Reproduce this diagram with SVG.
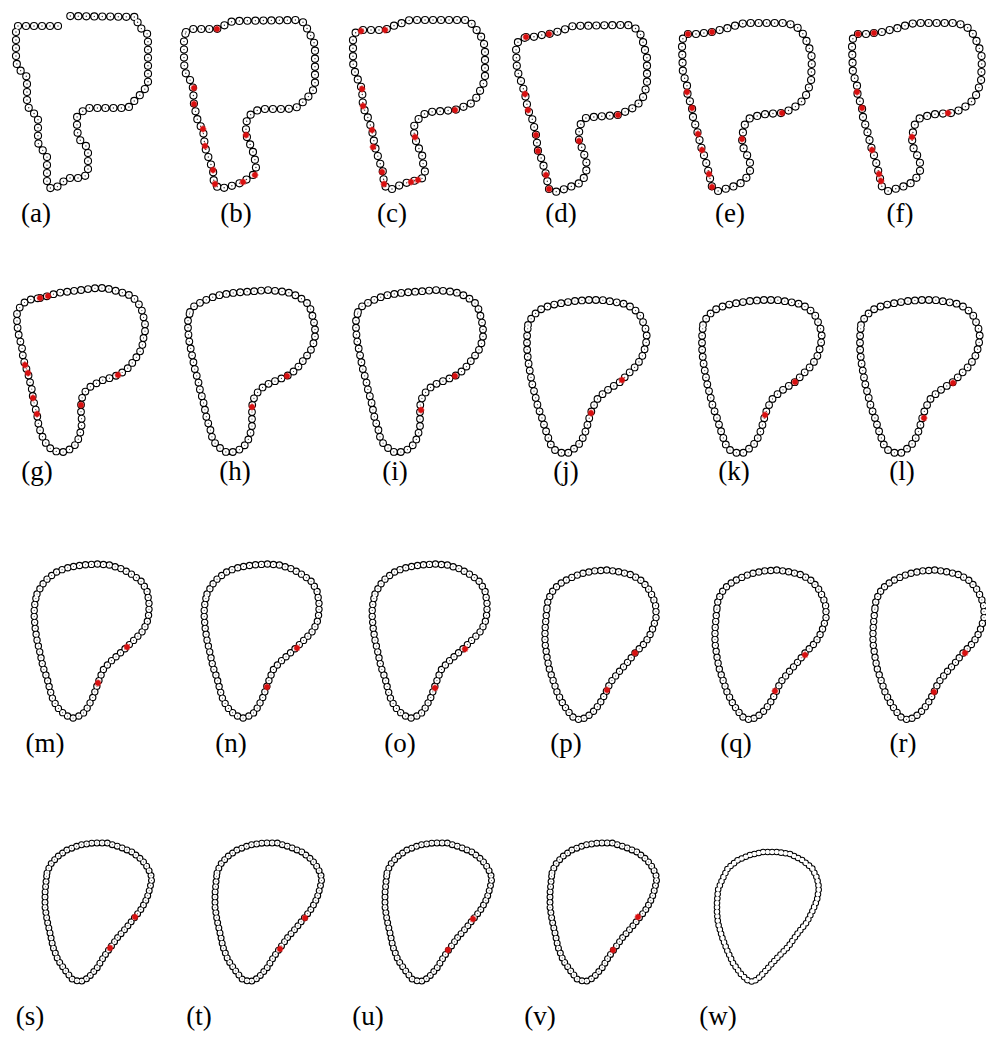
<svg xmlns="http://www.w3.org/2000/svg" xmlns:xlink="http://www.w3.org/1999/xlink" width="986" height="1039" viewBox="0 0 986 1039">
<style>
.k{fill:none;stroke-linecap:round;stroke-linejoin:round}
.o1{stroke:#000;stroke-width:8.2;stroke-dasharray:0 8}
.i1{stroke:#fff;stroke-width:6;stroke-dasharray:0 8}
.c1{stroke:#333;stroke-width:1.4;stroke-dasharray:0 8}
.o2{stroke:#000;stroke-width:7.8;stroke-dasharray:0 7}
.i2{stroke:#fff;stroke-width:5.6;stroke-dasharray:0 7}
.c2{stroke:#444;stroke-width:1.2;stroke-dasharray:0 7}
.o3{stroke:#000;stroke-width:7.4;stroke-dasharray:0 6}
.i3{stroke:#fff;stroke-width:5.1;stroke-dasharray:0 6}
.c3{stroke:#555;stroke-width:1.1;stroke-dasharray:0 6}
.o4{stroke:#000;stroke-width:7;stroke-dasharray:0 5.2}
.i4{stroke:#fff;stroke-width:4.8;stroke-dasharray:0 5.2}
.c4{stroke:#555;stroke-width:1;stroke-dasharray:0 5.2}
.o5{stroke:#000;stroke-width:6.6;stroke-dasharray:0 4.5}
.i5{stroke:#fff;stroke-width:4.6;stroke-dasharray:0 4.5}
.lbl{font-family:'Liberation Serif','DejaVu Serif',serif;font-size:27px;fill:#000;text-anchor:middle}
</style>
<defs>
<g id="rd"><circle r="2.7" fill="#e01818"/><path d="M-3.4,0H3.4M0,-3.4V3.4M-2.4,-2.4L2.4,2.4M-2.4,2.4L2.4,-2.4" stroke="#d81010" stroke-width="1.1"/></g>
<path id="pa" d="M58,26 L16,26 L16,61 L18,68 L27,77 L27,100 L29,109 L38,117 L38,143 L47,157 L47,183 L51,189 L59,186 L67,178 L83,178 L88,173 L88,148 L80,140 L77,131 L77,117 L86,108 L128,108 L136,99 L144,91 L148,82 L148,42 L147,33 L138,26 L137,17 L66,16"/>
<path id="pb" d="M16,32 L22,29 L47,29 L55,25 L63,21 L127,20 L135,23 L138,31 L142,38 L145,45 L145,85 L142,93 L135,100 L128,107 L118,109 L90,109 L82,113 L77,119 L76,127 L76,135 L80,144 L83,152 L85,160 L86,168 L83,175 L73,182 L65,185 L57,187 L50,189 L44,184 L43,170 L40,162 L35,147 L33,130 L28,122 L24,105 L23,88 L20,80 L15,72 L14,63 L14,38 Z"/>
<path id="pc" d="M13,40 L15,33 L21,30 L45,30 L53,26 L62,23 L70,20 L127,20 L133,25 L138,32 L142,38 L145,47 L145,80 L142,87 L137,97 L132,103 L123,107 L115,110 L90,112 L82,115 L77,121 L73,128 L75,137 L77,145 L82,154 L83,163 L85,172 L83,178 L77,180 L70,182 L62,184 L55,188 L49,190 L44,185 L43,172 L40,163 L35,147 L32,130 L27,115 L23,107 L22,89 L18,80 L15,72 L13,63 Z"/>
<path id="pd" d="M26,37 L33,37 L42,35 L49,34 L57,32 L66,29 L73,26 L120,25 L128,25 L135,28 L140,33 L143,42 L145,50 L147,58 L147,83 L145,92 L142,100 L135,107 L127,111 L118,115 L93,117 L86,118 L80,125 L79,133 L79,141 L82,148 L85,157 L87,165 L86,173 L82,182 L75,185 L62,190 L55,192 L49,189 L46,175 L42,160 L38,151 L36,135 L32,118 L28,110 L25,94 L20,78 L17,70 L16,48 L18,42 Z"/>
<path id="pe" d="M8,34 L16,34 L24,33 L32,32 L40,30 L48,28 L57,25 L65,23 L105,23 L113,25 L118,28 L123,34 L127,42 L130,50 L132,58 L131,82 L128,90 L125,98 L118,105 L110,110 L102,113 L86,114 L77,116 L70,118 L65,124 L63,132 L62,139 L63,147 L67,155 L70,163 L70,172 L65,180 L58,185 L45,189 L38,191 L32,187 L29,174 L25,158 L22,150 L18,134 L13,117 L12,108 L7,92 L7,83 L3,75 L2,47 L3,38 Z"/>
<path id="pg" d="M40,48 48,46 57,43 65,42 97,38 105,38 113,40 120,42 127,44 133,47 137,52 141,57 143,65 145,73 145,82 143,90 142,98 138,105 133,112 128,118 123,122 118,125 110,128 103,130 97,133 90,137 85,142 82,148 81,155 81,163 82,172 81,180 79,187 77,193 72,198 65,202 58,202 52,200 47,195 43,188 40,180 38,172 37,164 35,157 33,148 32,140 30,132 28,123 25,115 23,107 22,98 20,90 18,82 17,72 17,63 20,57 25,52 32,49 Z"/>
<path id="ph" d="M20,62 25,55 32,52 40,48 50,45 62,43 73,42 87,41 97,40 107,41 117,42 125,45 132,49 137,53 141,60 143,68 145,77 145,87 143,95 140,102 135,108 130,115 123,122 117,126 108,130 100,133 93,137 87,143 83,150 82,157 82,167 82,177 80,185 77,193 71,199 63,202 56,202 50,198 45,193 42,187 40,178 37,170 35,160 33,150 30,140 28,130 25,120 23,110 21,100 19,90 18,80 18,70 Z"/>
<path id="pk" d="M23,75 27,67 32,62 38,58 47,55 57,53 70,51 83,50 97,50 110,52 120,54 128,58 135,65 138,72 141,80 142,88 140,98 137,107 132,115 125,122 115,132 107,137 100,142 93,148 88,157 85,165 83,173 80,183 76,192 70,198 63,203 57,203 50,200 46,195 43,187 40,178 37,168 33,157 30,145 27,133 25,122 23,110 22,98 22,87 Z"/>
<path id="pm" d="M37,84 42,75 48,68 58,61 70,57 83,55 97,54 110,55 122,59 133,65 142,72 147,81 149,92 149,103 147,113 142,122 135,129 127,137 118,145 110,152 103,160 98,173 93,187 88,197 82,205 73,208 65,205 58,198 53,190 50,180 47,168 43,157 40,143 37,130 35,117 34,103 35,92 Z"/>
<path id="pp" d="M37,98 38,90 42,82 48,75 58,69 70,64 83,61 97,60 110,62 122,65 132,71 138,78 143,87 146,97 146,108 143,118 139,127 133,135 125,143 117,153 108,163 100,173 97,180 92,190 85,200 77,207 70,210 63,207 57,200 52,192 47,182 43,170 39,158 37,147 35,133 35,120 36,108 Z"/>
<path id="ps" d="M47,93 50,85 57,77 67,70 80,65 93,63 107,63 120,67 132,72 142,80 148,88 152,98 150,108 147,118 142,128 135,137 127,147 118,157 110,168 103,178 97,188 88,198 80,202 72,199 65,190 58,180 53,167 50,153 47,140 45,127 45,113 46,102 Z"/>
<path id="pw" d="M37,123 38,110 42,100 48,88 58,80 70,75 83,72 97,72 110,74 122,80 132,88 137,98 139,108 137,120 133,130 127,142 118,153 108,167 98,177 88,188 80,197 73,202 67,200 60,193 53,183 47,170 42,157 38,143 37,133 Z"/>
</defs>
<rect width="986" height="1039" fill="#fff"/>

<g id="panel-a" transform="translate(0,0)">
<use href="#pa" class="k o1"/><use href="#pa" class="k i1"/><use href="#pa" class="k c1"/>
</g>
<g id="panel-b" transform="translate(170,0)">
<use href="#pb" class="k o1"/><use href="#pb" class="k i1"/><use href="#pb" class="k c1"/>
<use href="#rd" x="47" y="29"/><use href="#rd" x="24" y="88"/><use href="#rd" x="24" y="104"/><use href="#rd" x="33" y="129"/><use href="#rd" x="35" y="146"/><use href="#rd" x="43" y="170"/><use href="#rd" x="45" y="184"/><use href="#rd" x="73" y="182"/><use href="#rd" x="85" y="175"/><use href="#rd" x="76" y="135"/>
</g>
<g id="panel-c" transform="translate(340,0)">
<use href="#pc" class="k o1"/><use href="#pc" class="k i1"/><use href="#pc" class="k c1"/>
<use href="#rd" x="21" y="31"/><use href="#rd" x="45" y="30"/><use href="#rd" x="22" y="89"/><use href="#rd" x="23" y="106"/><use href="#rd" x="32" y="130"/><use href="#rd" x="33" y="147"/><use href="#rd" x="42" y="172"/><use href="#rd" x="44" y="184"/><use href="#rd" x="71" y="182"/><use href="#rd" x="78" y="180"/><use href="#rd" x="75" y="137"/><use href="#rd" x="115" y="110"/>
</g>
<g id="panel-d" transform="translate(500,0)">
<use href="#pd" class="k o1"/><use href="#pd" class="k i1"/><use href="#pd" class="k c1"/>
<use href="#rd" x="26" y="37"/><use href="#rd" x="49" y="34"/><use href="#rd" x="25" y="94"/><use href="#rd" x="28" y="110"/><use href="#rd" x="36" y="135"/><use href="#rd" x="38" y="151"/><use href="#rd" x="46" y="175"/><use href="#rd" x="49" y="189"/><use href="#rd" x="79" y="141"/><use href="#rd" x="118" y="115"/>
</g>
<g id="panel-e" transform="translate(680,0)">
<use href="#pe" class="k o1"/><use href="#pe" class="k i1"/><use href="#pe" class="k c1"/>
<use href="#rd" x="8" y="34"/><use href="#rd" x="32" y="32"/><use href="#rd" x="7" y="92"/><use href="#rd" x="12" y="108"/><use href="#rd" x="18" y="134"/><use href="#rd" x="22" y="150"/><use href="#rd" x="29" y="174"/><use href="#rd" x="32" y="187"/><use href="#rd" x="62" y="139"/><use href="#rd" x="102" y="113"/>
</g>
<g id="panel-f" transform="translate(850,0)">
<use href="#pe" class="k o1"/><use href="#pe" class="k i1"/><use href="#pe" class="k c1"/>
<use href="#rd" x="8" y="34"/><use href="#rd" x="24" y="33"/><use href="#rd" x="7" y="92"/><use href="#rd" x="12" y="108"/><use href="#rd" x="22" y="150"/><use href="#rd" x="29" y="174"/><use href="#rd" x="31" y="181"/><use href="#rd" x="62" y="137"/><use href="#rd" x="98" y="113"/>
</g>

<g id="panel-g" transform="translate(0,250)">
<use href="#pg" class="k o2"/><use href="#pg" class="k i2"/><use href="#pg" class="k c2"/>
<use href="#rd" x="40" y="48"/><use href="#rd" x="48" y="46"/><use href="#rd" x="118" y="125"/><use href="#rd" x="81" y="155"/><use href="#rd" x="37" y="164"/><use href="#rd" x="33" y="148"/><use href="#rd" x="28" y="123"/><use href="#rd" x="25" y="115"/>
</g>
<g id="panel-h" transform="translate(170,250)">
<use href="#ph" class="k o2"/><use href="#ph" class="k i2"/><use href="#ph" class="k c2"/>
<use href="#rd" x="117" y="126"/><use href="#rd" x="82" y="157"/>
</g>
<g id="panel-i" transform="translate(338,250)">
<use href="#ph" class="k o2"/><use href="#ph" class="k i2"/><use href="#ph" class="k c2"/>
<use href="#rd" x="117" y="126"/><use href="#rd" x="83" y="160"/>
</g>
<g id="panel-j" transform="translate(505,250)">
<use href="#pk" class="k o2"/><use href="#pk" class="k i2"/><use href="#pk" class="k c2"/>
<use href="#rd" x="117" y="130"/><use href="#rd" x="86" y="163"/>
</g>
<g id="panel-k" transform="translate(680,250)">
<use href="#pk" class="k o2"/><use href="#pk" class="k i2"/><use href="#pk" class="k c2"/>
<use href="#rd" x="115" y="132"/><use href="#rd" x="85" y="165"/>
</g>
<g id="panel-l" transform="translate(838,250)">
<use href="#pk" class="k o2"/><use href="#pk" class="k i2"/><use href="#pk" class="k c2"/>
<use href="#rd" x="115" y="133"/><use href="#rd" x="86" y="168"/>
</g>

<g id="panel-m" transform="translate(0,510)">
<use href="#pm" class="k o3"/><use href="#pm" class="k i3"/><use href="#pm" class="k c3"/>
<use href="#rd" x="127" y="137"/><use href="#rd" x="98" y="173"/>
</g>
<g id="panel-n" transform="translate(170,510)">
<use href="#pm" class="k o3"/><use href="#pm" class="k i3"/><use href="#pm" class="k c3"/>
<use href="#rd" x="127" y="138"/><use href="#rd" x="97" y="177"/>
</g>
<g id="panel-o" transform="translate(338,510)">
<use href="#pm" class="k o3"/><use href="#pm" class="k i3"/><use href="#pm" class="k c3"/>
<use href="#rd" x="127" y="139"/><use href="#rd" x="97" y="178"/>
</g>
<g id="panel-p" transform="translate(510,510)">
<use href="#pp" class="k o3"/><use href="#pp" class="k i3"/><use href="#pp" class="k c3"/>
<use href="#rd" x="125" y="143"/><use href="#rd" x="97" y="180"/>
</g>
<g id="panel-q" transform="translate(680,510)">
<use href="#pp" class="k o3"/><use href="#pp" class="k i3"/><use href="#pp" class="k c3"/>
<use href="#rd" x="125" y="145"/><use href="#rd" x="95" y="181"/>
</g>
<g id="panel-r" transform="translate(838,510)">
<use href="#pp" class="k o3"/><use href="#pp" class="k i3"/><use href="#pp" class="k c3"/>
<use href="#rd" x="127" y="143"/><use href="#rd" x="96" y="182"/>
</g>

<g id="panel-s" transform="translate(0,780)">
<use href="#ps" class="k o4"/><use href="#ps" class="k i4"/><use href="#ps" class="k c4"/>
<use href="#rd" x="135" y="137"/><use href="#rd" x="110" y="168"/>
</g>
<g id="panel-t" transform="translate(170,780)">
<use href="#ps" class="k o4"/><use href="#ps" class="k i4"/><use href="#ps" class="k c4"/>
<use href="#rd" x="135" y="138"/><use href="#rd" x="110" y="169"/>
</g>
<g id="panel-u" transform="translate(340,780)">
<use href="#ps" class="k o4"/><use href="#ps" class="k i4"/><use href="#ps" class="k c4"/>
<use href="#rd" x="133" y="139"/><use href="#rd" x="108" y="170"/>
</g>
<g id="panel-v" transform="translate(505,780)">
<use href="#ps" class="k o4"/><use href="#ps" class="k i4"/><use href="#ps" class="k c4"/>
<use href="#rd" x="133" y="137"/><use href="#rd" x="108" y="170"/>
</g>
<g id="panel-w" transform="translate(680,780)">
<use href="#pw" class="k o5"/><use href="#pw" class="k i5"/>
</g>

<g id="labels">
<text class="lbl" font-family="Liberation Serif, serif" x="36" y="222">(a)</text>
<text class="lbl" font-family="Liberation Serif, serif" x="236" y="222">(b)</text>
<text class="lbl" font-family="Liberation Serif, serif" x="392" y="222">(c)</text>
<text class="lbl" font-family="Liberation Serif, serif" x="561" y="222">(d)</text>
<text class="lbl" font-family="Liberation Serif, serif" x="730" y="222">(e)</text>
<text class="lbl" font-family="Liberation Serif, serif" x="900" y="222">(f)</text>
<text class="lbl" font-family="Liberation Serif, serif" x="37" y="480">(g)</text>
<text class="lbl" font-family="Liberation Serif, serif" x="235" y="480">(h)</text>
<text class="lbl" font-family="Liberation Serif, serif" x="395" y="480">(i)</text>
<text class="lbl" font-family="Liberation Serif, serif" x="566" y="480">(j)</text>
<text class="lbl" font-family="Liberation Serif, serif" x="734" y="480">(k)</text>
<text class="lbl" font-family="Liberation Serif, serif" x="902" y="480">(l)</text>
<text class="lbl" font-family="Liberation Serif, serif" x="45" y="752">(m)</text>
<text class="lbl" font-family="Liberation Serif, serif" x="231" y="752">(n)</text>
<text class="lbl" font-family="Liberation Serif, serif" x="400" y="752">(o)</text>
<text class="lbl" font-family="Liberation Serif, serif" x="566" y="752">(p)</text>
<text class="lbl" font-family="Liberation Serif, serif" x="736" y="752">(q)</text>
<text class="lbl" font-family="Liberation Serif, serif" x="903" y="752">(r)</text>
<text class="lbl" font-family="Liberation Serif, serif" x="30" y="1025">(s)</text>
<text class="lbl" font-family="Liberation Serif, serif" x="199" y="1025">(t)</text>
<text class="lbl" font-family="Liberation Serif, serif" x="368" y="1025">(u)</text>
<text class="lbl" font-family="Liberation Serif, serif" x="540" y="1025">(v)</text>
<text class="lbl" font-family="Liberation Serif, serif" x="718" y="1025">(w)</text>
</g>
</svg>
